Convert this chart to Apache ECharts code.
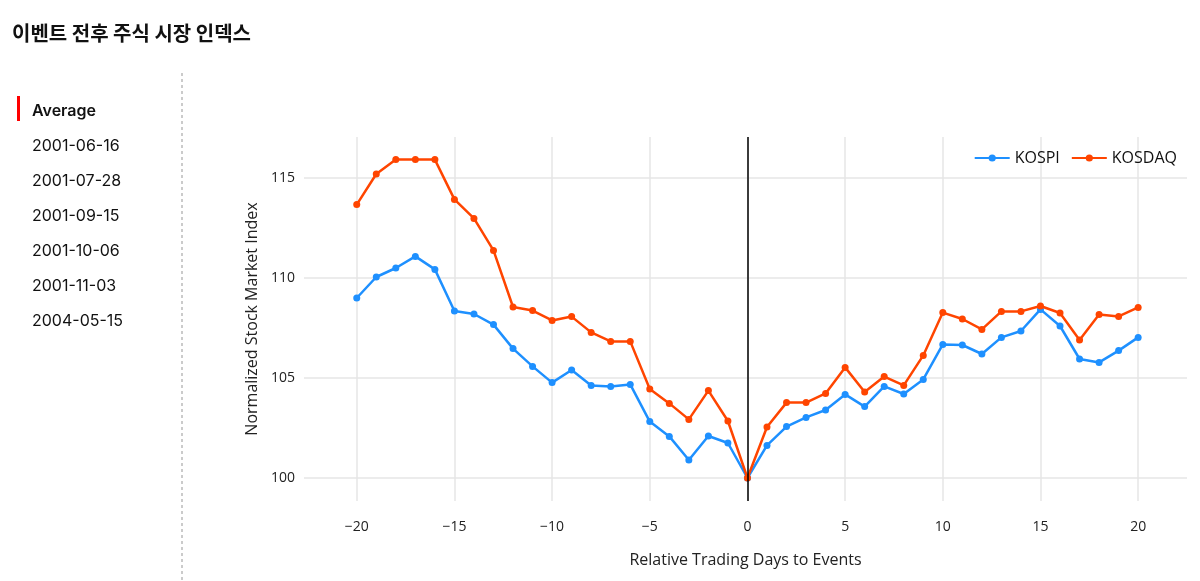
<!DOCTYPE html>
<html>
<head>
<meta charset="utf-8">
<script src="https://cdn.jsdelivr.net/npm/echarts@6/dist/echarts.min.js"></script>
<style>
html,body{margin:0;padding:0;background:#fff;}
#chart{width:1200px;height:581px;}
</style>
</head>
<body>
<div id="chart"></div>
<script>
const days = [-20,-19,-18,-17,-16,-15,-14,-13,-12,-11,-10,-9,-8,-7,-6,-5,-4,-3,-2,-1,0,1,2,3,4,5,6,7,8,9,10,11,12,13,14,15,16,17,18,19,20];
const kospi = [109.0,110.05,110.5,111.08,110.43,108.35,108.2,107.67,106.47,105.58,104.77,105.4,104.62,104.58,104.68,102.82,102.08,100.9,102.1,101.75,100.0,
  101.63,102.57,103.03,103.4,104.18,103.57,104.58,104.2,104.93,106.68,106.65,106.2,107.03,107.35,108.43,107.6,105.95,105.78,106.37,107.03];
const kosdaq = [113.67,115.2,115.92,115.92,115.92,113.93,112.98,111.38,108.55,108.37,107.88,108.07,107.28,106.83,106.83,104.45,103.73,102.93,104.37,102.85,100.0,
  102.55,103.77,103.77,104.23,105.53,104.3,105.07,104.63,106.13,108.27,107.95,107.43,108.33,108.33,108.6,108.25,106.9,108.18,108.08,108.53];
const xTicks = [-20,-15,-10,-5,0,5,10,15,20];
const yTicks = [100,105,110,115];
const seriesNames = ['KOSPI','KOSDAQ'];
const sidebarItems = ['Average','2001-06-16','2001-07-28','2001-09-15','2001-10-06','2001-11-03','2004-05-15'];
const titleText = '이벤트 전후 주식 시장 인덱스';
const xTitle = 'Relative Trading Days to Events';
const yTitle = 'Normalized Stock Market Index';

const chart = echarts.init(document.getElementById('chart'));
const fontAxis = '"Open Sans", "Noto Sans", sans-serif';
const fontUI = '"Noto Sans CJK KR", "Noto Sans", sans-serif';
const fontSide = 'Inter, "Noto Sans", sans-serif';

const sidebarGraphics = [
  {type:'rect', left:17, top:96, shape:{width:3,height:25}, style:{fill:'#ff0000'}},
  {type:'line', shape:{x1:182,y1:73,x2:182,y2:581}, style:{stroke:'#aaaaaa', lineWidth:1.2, lineDash:[3,3]}}
];
sidebarItems.forEach((t,i)=>{
  sidebarGraphics.push({type:'text', left:32, top:103 + i*35, style:{text:t, fill:'#111', font:(i===0?'600 ':'400 ') + '16px ' + fontSide}});
});

const mkData = arr => days.map((d,i)=>[d, arr[i]]);

chart.setOption({
  animation:false,
  backgroundColor:'#fff',
  title:{text:titleText, left:7, top:18, textStyle:{fontSize:20, fontWeight:'bold', color:'#111', fontFamily:fontUI}},
  graphic: sidebarGraphics,
  legend:{
    data:seriesNames, right:18, top:145, itemWidth:35, itemHeight:9, itemGap:11,
    textStyle:{fontSize:16, color:'#111', fontFamily:fontAxis}
  },
  grid:{left:304, right:13, top:137, bottom:80, containLabel:false},
  xAxis:{
    type:'value', min:-22.7, max:22.5,
    name:xTitle, nameLocation:'middle', nameGap:51,
    nameTextStyle:{fontSize:16, color:'#222', fontFamily:fontAxis},
    axisLine:{show:false}, axisTick:{show:false, customValues:xTicks},
    axisLabel:{margin:19, fontSize:14, color:'#222', fontFamily:fontAxis, customValues:xTicks,
      formatter:v => String(v).replace('-', '\u2212')},
    splitLine:{show:true, lineStyle:{color:'#e6e6e6', width:1.5}}
  },
  yAxis:{
    type:'value', min:98.85, max:117.05,
    name:yTitle, nameLocation:'middle', nameGap:36, nameRotate:90,
    nameTextStyle:{fontSize:16, color:'#222', fontFamily:fontAxis},
    axisLine:{show:false}, axisTick:{show:false, customValues:yTicks},
    axisLabel:{margin:9, fontSize:14, color:'#222', fontFamily:fontAxis, customValues:yTicks},
    splitLine:{show:true, lineStyle:{color:'#e6e6e6', width:1.5}}
  },
  series:[
    {name:seriesNames[0], type:'line', data:mkData(kospi), color:'#1e90ff',
      symbol:'circle', symbolSize:7, lineStyle:{width:2.5}, z:3,
      markLine:{silent:true, symbol:'none', label:{show:false}, lineStyle:{color:'#000', width:1.5, type:'solid'}, data:[{xAxis:0}]}},
    {name:seriesNames[1], type:'line', data:mkData(kosdaq), color:'#ff4500',
      symbol:'circle', symbolSize:7, lineStyle:{width:2.5}, z:4}
  ]
});
</script>
</body>
</html>
